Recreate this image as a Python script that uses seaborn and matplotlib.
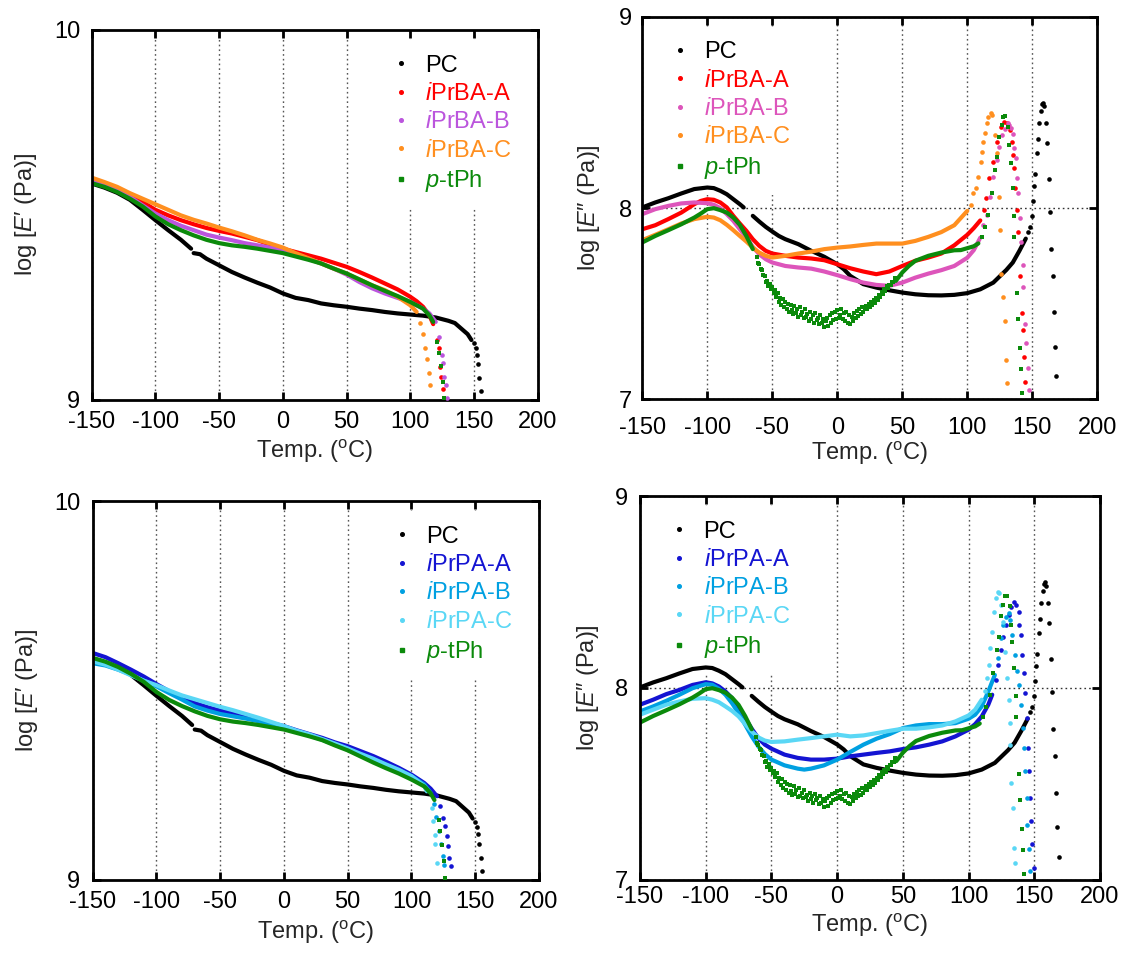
import matplotlib
matplotlib.use("Agg")
import matplotlib.pyplot as plt
import seaborn as sns
from matplotlib.lines import Line2D

# ===================== DATA =====================
temp_ticks = [-150, -100, -50, 0, 50, 100, 150, 200]
temp_tick_labels = ["-150", "-100", "-50", "0", "50", "100", "150", "200"]
ep_ticks = [9, 10]
epp_ticks = [7, 8, 9]

T10 = [-150, -140, -130, -120, -110, -100, -90, -80, -70, -60, -50, -40, -30,
       -20, -10, 0, 10, 20, 30, 40, 50, 60, 70, 80, 90, 100]

# ---- log E' (storage modulus) ----
pc_E1_T = [-150, -140, -130, -120, -110, -100, -90, -80, -72]
pc_E1_v = [9.585, 9.574, 9.560, 9.541, 9.514, 9.486, 9.459, 9.433, 9.409]
pc_E2_T = [-70, -65, -60, -50, -40, -30, -20, -10, 0, 10, 20, 30, 40, 50, 60, 70,
           80, 90, 100, 110, 120, 130, 135, 140, 145, 148]
pc_E2_v = [9.397, 9.394, 9.382, 9.364, 9.346, 9.331, 9.317, 9.304, 9.288, 9.276,
           9.270, 9.261, 9.256, 9.252, 9.247, 9.243, 9.238, 9.234, 9.231, 9.228,
           9.223, 9.214, 9.208, 9.193, 9.178, 9.162]
pc_Et_T = [150.2, 151.6, 152.4, 152.9, 154.2, 155.3]
pc_Et_v = [9.153, 9.140, 9.122, 9.096, 9.059, 9.025]

ba_a_E_T = T10 + [105, 110, 115, 118]
ba_a_E_v = [9.595, 9.585, 9.573, 9.556, 9.535, 9.514, 9.499, 9.486, 9.475, 9.465,
            9.457, 9.450, 9.441, 9.432, 9.420, 9.409, 9.400, 9.391, 9.382, 9.371,
            9.360, 9.346, 9.331, 9.315, 9.299, 9.279, 9.267, 9.252, 9.229, 9.205]
ba_a_Et_T = [120.7, 122.3, 123.6, 124.4, 125.4]
ba_a_Et_v = [9.162, 9.140, 9.088, 9.061, 9.030]

ba_b_E_T = T10 + [110, 115, 120]
ba_b_E_v = [9.592, 9.582, 9.568, 9.549, 9.526, 9.504, 9.486, 9.471, 9.459, 9.447,
            9.439, 9.432, 9.424, 9.418, 9.412, 9.405, 9.394, 9.382, 9.369, 9.355,
            9.339, 9.319, 9.302, 9.288, 9.276, 9.265, 9.247, 9.234, 9.211]
ba_b_Et_T = [122.8, 124.7, 125.9, 126.5, 127.8, 128.6]
ba_b_Et_v = [9.171, 9.122, 9.099, 9.063, 9.041, 9.005]

ba_c_E_T = T10 + [105]
ba_c_E_v = [9.601, 9.589, 9.576, 9.559, 9.544, 9.529, 9.514, 9.499, 9.487, 9.477,
            9.466, 9.456, 9.445, 9.433, 9.423, 9.412, 9.397, 9.383, 9.369, 9.355,
            9.342, 9.326, 9.310, 9.297, 9.279, 9.256, 9.238]
ba_c_Et_T = [107.9, 109.7, 111.6, 113.1, 114.5, 115.5]
ba_c_Et_v = [9.209, 9.178, 9.140, 9.110, 9.072, 9.041]

pt_E_T = T10 + [110, 115, 118]
pt_E_v = [9.586, 9.576, 9.562, 9.544, 9.523, 9.496, 9.475, 9.459, 9.445, 9.433,
          9.424, 9.418, 9.414, 9.409, 9.403, 9.397, 9.388, 9.379, 9.369, 9.355,
          9.342, 9.326, 9.310, 9.295, 9.281, 9.265, 9.247, 9.229, 9.211]
pt_Et_T = [121.2, 122.3, 123.9, 125.4, 126.5]
pt_Et_v = [9.158, 9.128, 9.092, 9.049, 9.005]

pa_a_E_T = T10 + [110, 115, 120]
pa_a_E_v = [9.599, 9.588, 9.572, 9.555, 9.537, 9.517, 9.498, 9.480, 9.467, 9.456,
            9.447, 9.440, 9.432, 9.423, 9.414, 9.406, 9.395, 9.385, 9.375, 9.363,
            9.353, 9.340, 9.327, 9.312, 9.296, 9.278, 9.256, 9.241, 9.221]
pa_a_Et_T = [122.3, 124.5, 126.5, 127.9, 129.0, 129.6, 130.7]
pa_a_Et_v = [9.195, 9.164, 9.142, 9.116, 9.090, 9.059, 9.037]

pa_b_E_T = T10 + [110, 115]
pa_b_E_v = [9.572, 9.566, 9.555, 9.542, 9.526, 9.511, 9.493, 9.476, 9.458, 9.447,
            9.438, 9.432, 9.426, 9.419, 9.410, 9.399, 9.391, 9.381, 9.370, 9.357,
            9.344, 9.331, 9.318, 9.303, 9.289, 9.274, 9.252, 9.230]
pa_b_Et_T = [117.5, 119.5, 121.5, 123.0, 124.5, 125.8]
pa_b_Et_v = [9.200, 9.165, 9.130, 9.095, 9.063, 9.039]

pa_c_E_T = T10 + [110, 112]
pa_c_E_v = [9.577, 9.568, 9.555, 9.540, 9.526, 9.514, 9.500, 9.487, 9.477, 9.467,
            9.457, 9.448, 9.438, 9.428, 9.417, 9.406, 9.394, 9.384, 9.372, 9.360,
            9.347, 9.333, 9.320, 9.305, 9.291, 9.274, 9.248, 9.234]
pa_c_Et_T = [116.2, 117.0, 118.1, 118.4, 119.9]
pa_c_Et_v = [9.190, 9.155, 9.120, 9.094, 9.046]

# ---- log E'' (loss modulus) ----
pc_L1_T = [-150, -140, -130, -120, -110, -100, -95, -90, -85, -80, -75, -72]
pc_L1_v = [8.003, 8.029, 8.051, 8.076, 8.099, 8.107, 8.104, 8.090, 8.072, 8.046,
           8.020, 8.003]
pc_L2_T = [-65, -60, -55, -50, -45, -40, -30, -20, -10, 0, 5, 10, 20, 30, 40, 50,
           60, 70, 80, 90, 100, 110, 120, 130, 135, 140, 145]
pc_L2_v = [7.959, 7.929, 7.901, 7.877, 7.854, 7.837, 7.811, 7.776, 7.745, 7.706,
           7.680, 7.645, 7.602, 7.584, 7.570, 7.558, 7.549, 7.544, 7.543, 7.546,
           7.555, 7.575, 7.610, 7.676, 7.715, 7.775, 7.840]
pc_Lt_T = [146.9, 148.2, 149.5, 150.3, 151.5, 152.1, 153.4, 154.2, 155.4, 156.5,
           157.2, 158.5, 159.2, 160.3, 161.3, 162.6, 163.6, 164.2, 165.7, 166.5,
           167.5, 168.5]
pc_Lt_v = [7.876, 7.902, 7.958, 8.038, 8.115, 8.176, 8.289, 8.359, 8.443, 8.507,
           8.544, 8.550, 8.533, 8.443, 8.341, 8.150, 7.981, 7.786, 7.645, 7.455,
           7.275, 7.122]

T5 = [-150, -140, -130, -120, -110, -100, -95, -90, -85, -80, -75, -70, -65, -60,
      -55, -50, -40, -30, -20, -10, 0, 10, 20, 30, 40, 50, 60, 70, 80, 90, 100]

ba_a_L_T = [-150, -140, -130, -120, -110, -105, -100, -95, -90, -85, -80, -75, -70,
            -65, -60, -55, -50, -40, -30, -20, -10, 0, 10, 20, 30, 40, 50, 60, 70,
            80, 90, 100, 105, 110]
ba_a_L_v = [7.889, 7.910, 7.942, 7.976, 8.020, 8.037, 8.046, 8.043, 8.029, 8.003,
            7.959, 7.919, 7.881, 7.837, 7.802, 7.776, 7.762, 7.750, 7.741, 7.736,
            7.727, 7.706, 7.685, 7.668, 7.654, 7.668, 7.697, 7.724, 7.741, 7.762,
            7.805, 7.860, 7.895, 7.935]
ba_a_Lt_T = [112.8, 114.4, 116.9, 120.0, 123.1, 125.9, 128.2, 130.3, 132.8, 134.2,
             135.4, 135.9, 136.7, 138.0, 138.8, 140.5, 142.3, 143.1, 143.6, 144.4]
ba_a_Lt_v = [7.990, 8.051, 8.155, 8.242, 8.347, 8.425, 8.451, 8.446, 8.408, 8.347,
             8.277, 8.207, 8.103, 7.990, 7.876, 7.645, 7.453, 7.362, 7.223, 7.092]

ba_b_L_T = T5 + [105, 110]
ba_b_L_v = [7.968, 7.994, 8.011, 8.024, 8.029, 8.025, 8.017, 7.999, 7.968, 7.933,
            7.889, 7.846, 7.797, 7.758, 7.732, 7.715, 7.697, 7.689, 7.683, 7.668,
            7.649, 7.628, 7.610, 7.598, 7.593, 7.610, 7.636, 7.657, 7.675, 7.697,
            7.740, 7.780, 7.845]
ba_b_Lt_T = [112.3, 114.9, 117.5, 120.0, 122.6, 124.6, 126.5, 129.0, 131.1, 132.3,
             133.4, 135.4, 136.2, 137.5, 138.5, 139.3, 140.5, 141.3, 142.6, 143.1,
             144.4, 145.2, 146.5, 147.2]
ba_b_Lt_v = [7.911, 7.963, 8.059, 8.164, 8.251, 8.320, 8.382, 8.411, 8.443, 8.434,
             8.417, 8.385, 8.312, 8.260, 8.158, 8.077, 7.946, 7.824, 7.702, 7.585,
             7.394, 7.296, 7.162, 7.049]

ba_c_L_T = T5
ba_c_L_v = [7.832, 7.860, 7.889, 7.919, 7.942, 7.954, 7.950, 7.936, 7.912, 7.884,
            7.854, 7.825, 7.793, 7.767, 7.750, 7.741, 7.750, 7.762, 7.772, 7.785,
            7.793, 7.799, 7.807, 7.814, 7.814, 7.814, 7.828, 7.849, 7.874, 7.910,
            7.985]
ba_c_Lt_T = [102.6, 104.6, 106.7, 108.5, 110.3, 111.1, 112.3, 113.6, 114.9, 116.2,
             118.0, 119.2, 121.3, 123.1, 124.6, 125.2, 126.0, 127.7, 129.0, 129.5,
             130.3]
ba_c_Lt_v = [8.016, 8.077, 8.103, 8.164, 8.242, 8.294, 8.347, 8.390, 8.443, 8.477,
             8.495, 8.486, 8.382, 8.286, 8.056, 7.885, 7.655, 7.536, 7.411, 7.205,
             7.084]

pt_L1_T = [-150, -140, -130, -120, -110, -105, -100, -95, -90, -85, -80, -75, -70, -65]
pt_L1_v = [7.820, 7.854, 7.884, 7.915, 7.950, 7.971, 7.994, 7.999, 7.989, 7.976,
           7.950, 7.912, 7.854, 7.785]
pt_Ln_T = [-62, -61, -60, -59, -58, -57, -56, -55, -54, -53, -52, -51, -50, -49,
           -48, -47, -46, -45, -44, -43, -42, -41, -40, -39, -38, -37, -36, -35,
           -34, -33, -32, -31, -30, -29, -28, -27, -26, -25, -24, -23, -22, -21,
           -20, -19, -18, -17, -16, -15, -14, -13, -12, -11, -10, -9, -8, -7,
           -6, -5, -4, -3, -2, -1, 0, 1, 2, 3, 4, 5, 6, 7, 8, 9, 10, 11, 12, 13,
           14, 15, 16, 17, 18, 19, 20, 21, 22, 23, 24, 25, 26, 27, 28, 29, 30,
           31, 32, 33, 34, 35, 36, 37, 38, 39, 40, 41, 42, 43, 44]
pt_Ln_v = [7.745, 7.715, 7.705, 7.680, 7.675, 7.650, 7.645, 7.615, 7.620, 7.590,
           7.605, 7.575, 7.585, 7.555, 7.570, 7.535, 7.555, 7.510, 7.530, 7.495,
           7.525, 7.480, 7.510, 7.470, 7.500, 7.455, 7.495, 7.465, 7.445, 7.490,
           7.450, 7.470, 7.430, 7.480, 7.440, 7.455, 7.425, 7.470, 7.430, 7.445,
           7.410, 7.455, 7.420, 7.440, 7.400, 7.450, 7.415, 7.425, 7.395, 7.440,
           7.400, 7.420, 7.380, 7.410, 7.425, 7.385, 7.440, 7.400, 7.450, 7.415,
           7.455, 7.420, 7.465, 7.425, 7.440, 7.470, 7.420, 7.450, 7.410, 7.455,
           7.400, 7.440, 7.395, 7.430, 7.410, 7.450, 7.425, 7.460, 7.435, 7.470,
           7.445, 7.480, 7.455, 7.475, 7.490, 7.470, 7.500, 7.485, 7.510, 7.495,
           7.520, 7.505, 7.530, 7.520, 7.545, 7.535, 7.560, 7.550, 7.575, 7.565,
           7.590, 7.580, 7.600, 7.600, 7.615, 7.615, 7.635]
pt_L2_T = [45, 50, 55, 60, 70, 80, 90, 95, 100, 105, 108.5]
pt_L2_v = [7.619, 7.663, 7.697, 7.724, 7.750, 7.767, 7.779, 7.780, 7.790, 7.800, 7.815]
pt_Lt_T = [111.1, 113.6, 116.2, 118.8, 121.3, 123.1, 124.6, 126.5, 127.7, 129.0,
           131.5, 132.3, 133.4, 134.9, 135.9, 136.2, 138.5, 139.3, 140.5, 141.3, 142.3]
pt_Lt_v = [7.850, 7.902, 7.963, 8.077, 8.199, 8.268, 8.373, 8.434, 8.477, 8.481,
           8.425, 8.329, 8.237, 8.103, 7.958, 7.850, 7.554, 7.418, 7.267, 7.157, 7.031]

pa_a_L_T = T5 + [105, 110, 115, 118]
pa_a_L_v = [7.913, 7.939, 7.968, 7.990, 8.016, 8.030, 8.024, 8.008, 7.982, 7.947,
            7.899, 7.843, 7.788, 7.739, 7.705, 7.684, 7.653, 7.636, 7.627, 7.627,
            7.632, 7.644, 7.653, 7.662, 7.670, 7.682, 7.691, 7.705, 7.722, 7.748,
            7.783, 7.812, 7.852, 7.913, 7.965]
pa_a_Lt_T = [120.7, 122.1, 124.3, 126.2, 128.2, 130.4, 132.6, 134.5, 136.4, 138.1,
             138.6, 140.0, 140.8, 141.9, 142.8, 144.1, 145.0, 145.8, 146.9, 147.7,
             148.5, 149.6]
pa_a_Lt_v = [8.042, 8.120, 8.198, 8.268, 8.328, 8.380, 8.423, 8.446, 8.432, 8.394,
             8.328, 8.276, 8.172, 8.077, 7.973, 7.843, 7.687, 7.566, 7.428, 7.307,
             7.185, 7.061]

pa_b_L_T = [-150, -140, -130, -120, -110, -100, -95, -90, -85, -80, -75, -70, -65,
            -60, -55, -50, -40, -30, -25, -20, -10, 0, 10, 20, 30, 40, 50, 60, 70,
            80, 90, 100, 105, 110, 115, 120]
pa_b_L_v = [7.878, 7.904, 7.933, 7.965, 7.999, 8.020, 8.017, 7.996, 7.965, 7.921,
            7.869, 7.809, 7.748, 7.696, 7.656, 7.627, 7.597, 7.580, 7.575, 7.580,
            7.597, 7.627, 7.667, 7.705, 7.736, 7.760, 7.791, 7.805, 7.812, 7.812,
            7.817, 7.840, 7.861, 7.904, 7.982, 8.068]
pa_b_Lt_T = [122.1, 124.3, 126.2, 128.2, 130.4, 131.7, 133.1, 135.4, 137.2, 138.6,
             140.0, 141.4, 142.5, 143.3, 144.1, 144.7, 145.8, 146.9]
pa_b_Lt_v = [8.155, 8.259, 8.328, 8.371, 8.389, 8.354, 8.276, 8.172, 8.086, 8.016,
             7.913, 7.791, 7.687, 7.566, 7.428, 7.289, 7.159, 7.047]

pa_c_L_T = T5 + [105, 110]
pa_c_L_v = [7.861, 7.887, 7.913, 7.930, 7.944, 7.947, 7.939, 7.926, 7.904, 7.881,
            7.852, 7.812, 7.774, 7.743, 7.726, 7.719, 7.722, 7.731, 7.739, 7.748,
            7.757, 7.748, 7.753, 7.765, 7.777, 7.788, 7.788, 7.795, 7.805, 7.826,
            7.857, 7.887, 7.939]
pa_c_Lt_T = [112.5, 113.8, 115.2, 116.6, 118.0, 119.3, 120.7, 122.1, 123.5, 124.9,
             126.2, 127.6, 129.0, 130.4, 131.2, 131.7, 132.6, 133.7, 134.5, 135.3]
pa_c_Lt_v = [7.982, 8.051, 8.120, 8.207, 8.293, 8.397, 8.467, 8.498, 8.493, 8.432,
             8.345, 8.190, 8.051, 7.939, 7.817, 7.705, 7.506, 7.376, 7.168, 7.090]

labels_ba = ["PC", r"$\mathit{i}$PrBA-A", r"$\mathit{i}$PrBA-B", r"$\mathit{i}$PrBA-C", r"$\mathit{p}$-tPh"]
labels_pa = ["PC", r"$\mathit{i}$PrPA-A", r"$\mathit{i}$PrPA-B", r"$\mathit{i}$PrPA-C", r"$\mathit{p}$-tPh"]

# ===================== STYLE =====================
C_PC = "#000000"
C_BA_A = "#FF0000"
C_BA_B1 = "#BB55DD"
C_BA_B2 = "#DD55BB"
C_BA_C = "#FF8F1F"
C_PT = "#0B8A0B"
C_PA_A = "#1414D2"
C_PA_B = "#00A0E1"
C_PA_C = "#5AD7F5"

FS = 17
LW = 3.0
DOT = 11

sns.set_theme(style="ticks")
plt.rcParams["font.family"] = ["Liberation Sans", "DejaVu Sans"]
plt.rcParams["mathtext.fontset"] = "custom"
plt.rcParams["mathtext.rm"] = "Liberation Sans"
plt.rcParams["mathtext.it"] = "Liberation Sans:italic"
plt.rcParams["mathtext.bf"] = "Liberation Sans:bold"
plt.rcParams["axes.linewidth"] = 2.0

fig = plt.figure(figsize=(11.27, 9.56), dpi=100)
ax_tl = fig.add_axes([0.08137, 0.58159, 0.39574, 0.38703])
ax_tr = fig.add_axes([0.56992, 0.58232, 0.40373, 0.40021])
ax_bl = fig.add_axes([0.08225, 0.07950, 0.39601, 0.39644])
ax_br = fig.add_axes([0.56788, 0.07950, 0.40817, 0.40167])


def draw(ax, segs, tail, color, marker="o", size=DOT):
    for T, v in segs:
        sns.lineplot(x=T, y=v, ax=ax, color=color, linewidth=LW, estimator=None,
                     sort=False, legend=False, zorder=2)
    if tail is not None:
        sns.scatterplot(x=tail[0], y=tail[1], ax=ax, color=color, s=size, marker=marker,
                        linewidth=0, legend=False, zorder=3)


def style(ax, ylim, yticks, ylabel, xpad, ypad, ylab_x, xlab_y, hgrid, colors, markers,
          labels, leg_x, leg_y):
    ax.set_xlim(-150, 200)
    ax.set_ylim(*ylim)
    ax.set_xticks(temp_ticks)
    ax.set_xticklabels(temp_tick_labels)
    ax.set_yticks(yticks)
    ax.set_yticklabels([str(t) for t in yticks])
    ax.tick_params(axis="both", direction="in", length=6, width=2, top=True, right=True,
                   labelsize=FS, colors="black")
    ax.tick_params(axis="x", pad=xpad)
    ax.tick_params(axis="y", pad=ypad)
    for s in ax.spines.values():
        s.set_linewidth(2.0)
        s.set_color("black")
    ax.grid(axis="x", linestyle=(0, (1.2, 2.2)), color="#555555", linewidth=1.0)
    if hgrid:
        ax.grid(axis="y", linestyle=(0, (1.2, 2.2)), color="#333333", linewidth=1.0)
    ax.set_xlabel(r"Temp. ($^{\mathrm{o}}$C)", fontsize=FS)
    ax.set_ylabel(ylabel, fontsize=FS)
    ax.xaxis.label.set_va("center")
    ax.yaxis.label.set_va("center")
    ax.xaxis.set_label_coords(0.5, xlab_y)
    ax.yaxis.set_label_coords(ylab_x, 0.5)
    handles = [Line2D([], [], ls="none", marker=m, color=c, markersize=2.6)
               for c, m in zip(colors, markers)]
    leg = ax.legend(handles, labels, loc="upper left", bbox_to_anchor=(leg_x, leg_y),
                    borderaxespad=0, frameon=True, fancybox=False, framealpha=1,
                    facecolor="white", edgecolor="none", fontsize=FS, handlelength=0.6,
                    handletextpad=0.73, borderpad=0.62, labelspacing=0.27)
    for t, c in zip(leg.get_texts(), colors):
        t.set_color(c)
    leg.set_zorder(1.8)


ylab_E = "log [$\\mathit{E}$\u2032 (Pa)]"
ylab_L = "log [$\\mathit{E}$\u2033 (Pa)]"

# ---- top-left: E' BA ----
draw(ax_tl, [(pc_E1_T, pc_E1_v), (pc_E2_T, pc_E2_v)], (pc_Et_T, pc_Et_v), C_PC)
draw(ax_tl, [(ba_a_E_T, ba_a_E_v)], (ba_a_Et_T, ba_a_Et_v), C_BA_A)
draw(ax_tl, [(ba_b_E_T, ba_b_E_v)], (ba_b_Et_T, ba_b_Et_v), C_BA_B1)
draw(ax_tl, [(ba_c_E_T, ba_c_E_v)], (ba_c_Et_T, ba_c_Et_v), C_BA_C)
draw(ax_tl, [(pt_E_T, pt_E_v)], (pt_Et_T, pt_Et_v), C_PT, "s")
style(ax_tl, (9, 10), ep_ticks, ylab_E, 7.7, 8.4, -0.1464, -0.1397, False,
      [C_PC, C_BA_A, C_BA_B1, C_BA_C, C_PT], ["o", "o", "o", "o", "s"], labels_ba,
      0.644, 0.973)

# ---- top-right: E'' BA ----
draw(ax_tr, [(pc_L1_T, pc_L1_v), (pc_L2_T, pc_L2_v)], (pc_Lt_T, pc_Lt_v), C_PC)
draw(ax_tr, [(ba_a_L_T, ba_a_L_v)], (ba_a_Lt_T, ba_a_Lt_v), C_BA_A)
draw(ax_tr, [(ba_b_L_T, ba_b_L_v)], (ba_b_Lt_T, ba_b_Lt_v), C_BA_B2)
draw(ax_tr, [(ba_c_L_T, ba_c_L_v)], (ba_c_Lt_T, ba_c_Lt_v), C_BA_C)
draw(ax_tr, [(pt_L1_T, pt_L1_v), (pt_L2_T, pt_L2_v)], (pt_Lt_T, pt_Lt_v), C_PT, "s")
draw(ax_tr, [], (pt_Ln_T, pt_Ln_v), C_PT, "s", 8)
style(ax_tr, (7, 9), epp_ticks, ylab_L, 12.7, 7.6, -0.1174, -0.1411, True,
      [C_PC, C_BA_A, C_BA_B2, C_BA_C, C_PT], ["o", "o", "o", "o", "s"], labels_ba,
      0.0354, 0.974)

# ---- bottom-left: E' PA ----
draw(ax_bl, [(pc_E1_T, pc_E1_v), (pc_E2_T, pc_E2_v)], (pc_Et_T, pc_Et_v), C_PC)
draw(ax_bl, [(pa_a_E_T, pa_a_E_v)], (pa_a_Et_T, pa_a_Et_v), C_PA_A)
draw(ax_bl, [(pa_b_E_T, pa_b_E_v)], (pa_b_Et_T, pa_b_Et_v), C_PA_B)
draw(ax_bl, [(pa_c_E_T, pa_c_E_v)], (pa_c_Et_T, pa_c_Et_v), C_PA_C)
draw(ax_bl, [(pt_E_T, pt_E_v)], (pt_Et_T, pt_Et_v), C_PT, "s")
style(ax_bl, (9, 10), ep_ticks, ylab_E, 7.9, 9.1, -0.1461, -0.1372, False,
      [C_PC, C_PA_A, C_PA_B, C_PA_C, C_PT], ["o", "o", "o", "o", "s"], labels_pa,
      0.644, 0.9736)

# ---- bottom-right: E'' PA ----
draw(ax_br, [(pc_L1_T, pc_L1_v), (pc_L2_T, pc_L2_v)], (pc_Lt_T, pc_Lt_v), C_PC)
draw(ax_br, [(pa_a_L_T, pa_a_L_v)], (pa_a_Lt_T, pa_a_Lt_v), C_PA_A)
draw(ax_br, [(pa_b_L_T, pa_b_L_v)], (pa_b_Lt_T, pa_b_Lt_v), C_PA_B)
draw(ax_br, [(pa_c_L_T, pa_c_L_v)], (pa_c_Lt_T, pa_c_Lt_v), C_PA_C)
draw(ax_br, [(pt_L1_T, pt_L1_v), (pt_L2_T, pt_L2_v)], (pt_Lt_T, pt_Lt_v), C_PT, "s")
draw(ax_br, [], (pt_Ln_T, pt_Ln_v), C_PT, "s", 8)
style(ax_br, (7, 9), epp_ticks, ylab_L, 4.6, 8.4, -0.1133, -0.1190, True,
      [C_PC, C_PA_A, C_PA_B, C_PA_C, C_PT], ["o", "o", "o", "o", "s"], labels_pa,
      0.0382, 0.974)

fig.savefig("out.png", dpi=100)
